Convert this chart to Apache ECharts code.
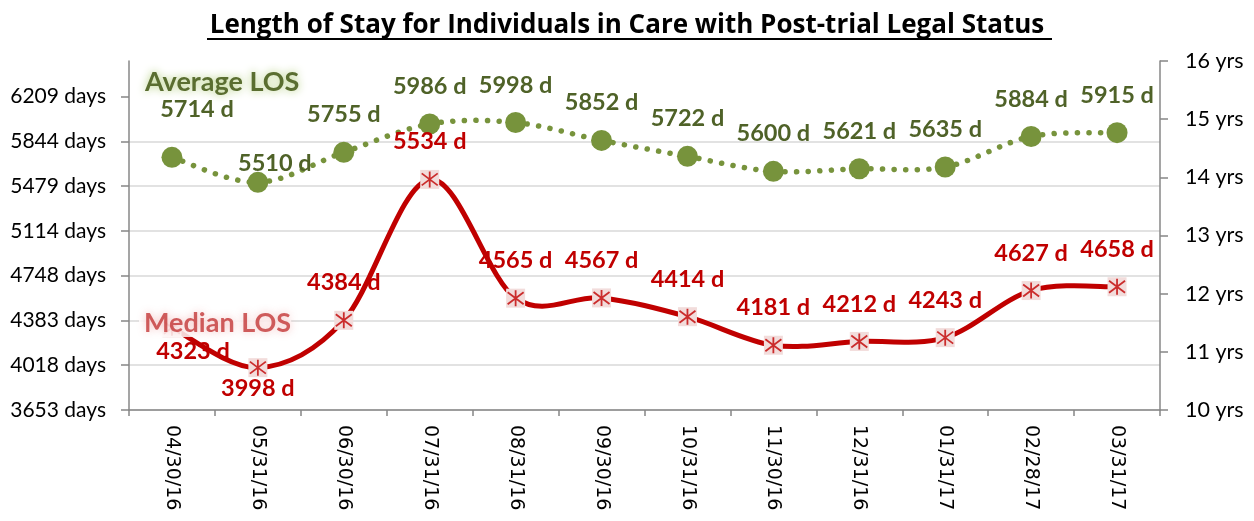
<!DOCTYPE html>
<html><head><meta charset="utf-8">
<script src="https://cdn.jsdelivr.net/npm/echarts@6/dist/echarts.min.js"></script>
<style>html,body{margin:0;padding:0;background:#fff}#c{width:1254px;height:521px}</style>
</head><body><div id="c"></div>
<script>
const categories = ['04/30/16','05/31/16','06/30/16','07/31/16','08/31/16','09/30/16','10/31/16','11/30/16','12/31/16','01/31/17','02/28/17','03/31/17'];
const averageLOS = [5714,5510,5755,5986,5998,5852,5722,5600,5621,5635,5884,5915];
const medianLOS = [4323,3998,4384,5534,4565,4567,4414,4181,4212,4243,4627,4658];
const dayTicks = [3652.5,4017.75,4383,4748.25,5113.5,5478.75,5844,6209.25];
const yearTicks = [10,11,12,13,14,15,16];

const AX = '#878787';
const F = 'Lato';
const starPath = 'path://M10,0 L10,20 M2.5,2.5 L17.5,17.5 M2.5,17.5 L17.5,2.5';

const avgData = averageLOS.map((v, i) => {
  const d = { value: v };
  if (i === 0) d.label = { offset: [25, -10] };
  if (i === 1) d.label = { offset: [17, 19] };
  return d;
});
const medData = medianLOS.map((v, i) => {
  const d = { value: v };
  if (i === 0) d.label = { offset: [21, 61] };
  if (i === 1) d.label = { offset: [0, 58] };
  return d;
});

// Excel-style smoothed curve drawn through the data points (cubic Bezier per segment)
function smoothCurve(name, arr, style) {
  const n = arr.length;
  return {
    type: 'custom', name: name, yAxisIndex: 0, silent: true, z: 2,
    data: arr.map((v, i) => [i, v]),
    renderItem: function (params, api) {
      const i = params.dataIndex;
      if (i >= n - 1) return null;
      const P = j => { const c = Math.max(0, Math.min(n - 1, j)); return api.coord([c, arr[c]]); };
      const p0 = P(i - 1), p1 = P(i), p2 = P(i + 1), p3 = P(i + 2);
      const k = 1 / 6;
      return {
        type: 'bezierCurve',
        shape: { x1: p1[0], y1: p1[1], x2: p2[0], y2: p2[1],
          cpx1: p1[0] + (p2[0] - p0[0]) * k, cpy1: p1[1] + (p2[1] - p0[1]) * k,
          cpx2: p2[0] - (p3[0] - p1[0]) * k, cpy2: p2[1] - (p3[1] - p1[1]) * k },
        style: Object.assign({ fill: 'none' }, style)
      };
    }
  };
}

const chart = echarts.init(document.getElementById('c'), null, { renderer: 'canvas' });
chart.setOption({
  animation: false,
  backgroundColor: '#fff',
  title: {
    text: 'Length of Stay for Individuals in Care with Post-trial Legal Status',
    left: 'center', top: 8,
    textStyle: { fontFamily: 'Open Sans', fontWeight: 'bold', fontSize: 26, color: '#000' }
  },
  graphic: [{ type: 'rect', shape: { x: 207, y: 38, width: 845, height: 2 }, style: { fill: '#000' } }],
  legend: [
    { data: ['Average LOS'], left: 140, top: 69, z: 10, icon: 'none', itemWidth: 0, itemHeight: 26, itemGap: 0, padding: 0, selectedMode: false,
      textStyle: { fontFamily: F, fontWeight: 'bold', fontSize: 27, color: '#5a6e30', padding: 0,
        textShadowColor: 'rgba(170,200,110,0.95)', textShadowBlur: 9 } },
    { data: ['Median LOS'], left: 139, top: 310, z: 10, icon: 'none', itemWidth: 0, itemHeight: 26, itemGap: 0, padding: 0, selectedMode: false,
      backgroundColor: 'rgba(255,255,255,0.85)',
      textStyle: { fontFamily: F, fontWeight: 'bold', fontSize: 27, color: 'rgba(195,55,55,0.8)', padding: 0,
        textShadowColor: 'rgba(240,170,170,0.95)', textShadowBlur: 9 } }
  ],
  grid: { left: 129, right: 94, top: 61, bottom: 111, containLabel: false, outerBoundsMode: 'none' },
  xAxis: {
    type: 'category', data: categories, boundaryGap: true,
    axisLine: { lineStyle: { color: AX, width: 1.5 } },
    axisTick: { show: true, length: 6, lineStyle: { color: AX, width: 1.5 } },
    axisLabel: { rotate: -90, margin: 15, fontFamily: 'DejaVu Sans', fontSize: 19, color: '#000' },
    splitLine: { show: false }
  },
  yAxis: [
    { type: 'value', min: 3652.5, max: 6500, interval: 365.25,
      axisLine: { show: true, lineStyle: { color: AX, width: 1.5 } },
      axisTick: { show: true, length: 8, customValues: dayTicks, lineStyle: { color: AX, width: 1.5 } },
      axisLabel: { customValues: dayTicks, margin: 23, fontFamily: F, fontSize: 21, color: '#000',
        formatter: v => v > 6300 ? '' : Math.round(v) + ' days' },
      splitLine: { show: true, showMaxLine: false, lineStyle: { color: '#d9d9d9', width: 1.5 } }
    },
    { type: 'value', position: 'right', min: 10, max: 16, interval: 1,
      axisLine: { show: true, lineStyle: { color: AX, width: 1.5 } },
      axisTick: { show: true, length: 8, lineStyle: { color: AX, width: 1.5 } },
      axisLabel: { customValues: yearTicks, margin: 25, fontFamily: F, fontSize: 21.5, color: '#000', formatter: '{value} yrs' },
      splitLine: { show: false }
    }
  ],
  series: [
    smoothCurve('Average curve', averageLOS, { stroke: '#77933c', lineWidth: 5.5, lineDash: [0.1, 11.5], lineCap: 'round' }),
    smoothCurve('Median curve', medianLOS, { stroke: '#c00000', lineWidth: 5, lineCap: 'butt' }),
    { name: 'Average LOS', type: 'line', yAxisIndex: 0, data: avgData,
      symbol: 'circle', symbolSize: 21, z: 3,
      itemStyle: { color: '#77933c' },
      lineStyle: { width: 0, opacity: 0 },
      label: { show: true, position: 'top', distance: 15, formatter: '{c} d',
        fontFamily: F, fontWeight: 'bold', fontSize: 23.5, color: '#4f6228' } },
    { name: 'Median LOS', type: 'line', yAxisIndex: 0, data: medData,
      symbol: 'rect', symbolSize: 19, z: 3,
      itemStyle: { color: '#f2dcdb' },
      lineStyle: { width: 0, opacity: 0 },
      label: { show: true, position: 'top', distance: 16, formatter: '{c} d',
        fontFamily: F, fontWeight: 'bold', fontSize: 23.5, color: '#c00000' } },
    { name: 'Median marker', type: 'scatter', yAxisIndex: 0, data: medianLOS, silent: true,
      symbol: starPath, symbolSize: 16, z: 4,
      itemStyle: { color: 'rgba(0,0,0,0)', borderColor: '#c00000', borderWidth: 1.8 } }
  ]
});
</script></body></html>
